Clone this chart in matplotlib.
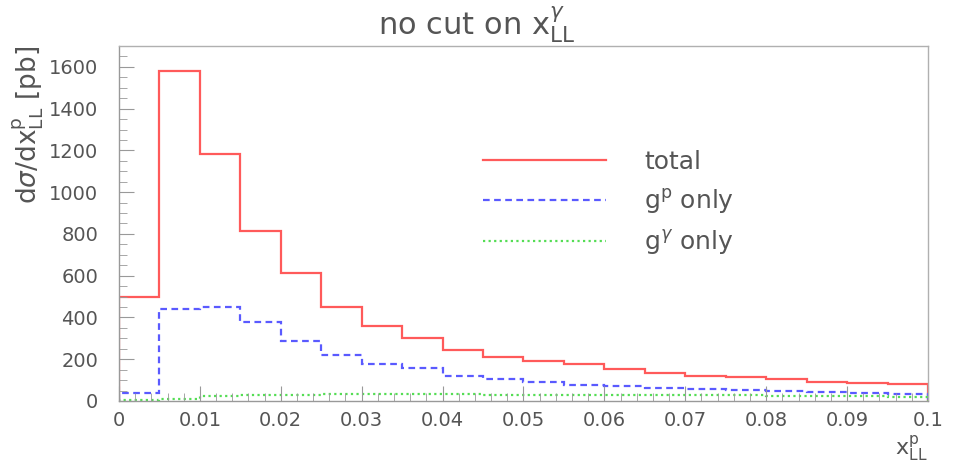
import numpy as np
import matplotlib.pyplot as plt
from matplotlib.ticker import MultipleLocator

# 20 bins of width 0.005 in x_LL^p
bin_edges = np.linspace(0.0, 0.1, 21)

total = [500, 1580, 1185, 812, 614, 452, 360, 300, 246, 211,
         190, 177, 155, 136, 122, 116, 103, 92, 84, 80]
gp_only = [40, 441, 452, 377, 285, 221, 178, 158, 122, 105,
           93, 78, 73, 60, 58, 53, 48, 44, 37, 34]
ggamma_only = [6, 10, 25, 30, 31, 32, 32, 32, 32, 31,
               31, 30, 30, 29, 28, 27, 26, 24, 23, 21]

TEXT = "#555555"
FRAME = "#999999"

plt.rcParams["font.family"] = ["DejaVu Sans"]
plt.rcParams["mathtext.fontset"] = "dejavusans"

fig = plt.figure(figsize=(9.54, 4.66), dpi=100)
ax = fig.add_axes([0.1247, 0.1395, 0.8480, 0.7618])

ax.stairs(total, bin_edges, baseline=0, color="#ff5a5a", lw=1.6, label="total")
ax.stairs(gp_only, bin_edges, baseline=0, color="#5a5aff", lw=1.6,
          linestyle=(0, (3, 2)), label=r"g$^{\mathregular{p}}$ only")
ax.stairs(ggamma_only, bin_edges, baseline=0, color="#55dd55", lw=1.6,
          linestyle=(0, (1, 1.5)), label=r"g$^{\gamma}$ only")

ax.set_xlim(0, 0.1)
ax.set_ylim(0, 1700)

ax.xaxis.set_major_locator(MultipleLocator(0.01))
ax.xaxis.set_minor_locator(MultipleLocator(0.002))
ax.yaxis.set_major_locator(MultipleLocator(200))
ax.yaxis.set_minor_locator(MultipleLocator(50))
ax.xaxis.set_major_formatter(lambda v, p: "0" if v == 0 else ("0.1" if abs(v - 0.1) < 1e-9 else f"{v:.2f}"))

ax.tick_params(which="both", direction="in", color=FRAME, labelcolor=TEXT,
               labelsize=14, top=False, right=False)
ax.tick_params(axis="y", which="major", length=11, pad=15)
ax.tick_params(axis="y", which="minor", length=6)
ax.tick_params(axis="x", which="major", length=11, pad=7)
ax.tick_params(axis="x", which="minor", length=6)

for s in ax.spines.values():
    s.set_color("#b0b0b0")
    s.set_linewidth(1.0)
ax.spines["left"].set_color(FRAME)
ax.spines["bottom"].set_color(FRAME)

ax.set_ylabel(r"d$\sigma$/dx$^{\mathregular{p}}_{\mathregular{LL}}$ [pb]",
              loc="top", fontsize=19, color=TEXT, labelpad=2)
ax.set_xlabel(r"x$^{\mathregular{p}}_{\mathregular{LL}}$", loc="right",
              fontsize=16, color=TEXT, labelpad=3)

fig.suptitle(r"no cut on x$^{\gamma}_{\mathregular{LL}}$", x=0.5, y=0.99,
             fontsize=22, color=TEXT)

leg = ax.legend(loc="upper left", bbox_to_anchor=(0.45, 0.707), frameon=False,
                fontsize=18, handlelength=4.9, handletextpad=1.55,
                labelspacing=0.5, borderpad=0, borderaxespad=0)
for t in leg.get_texts():
    t.set_color(TEXT)

fig.savefig("out.png", dpi=100)
